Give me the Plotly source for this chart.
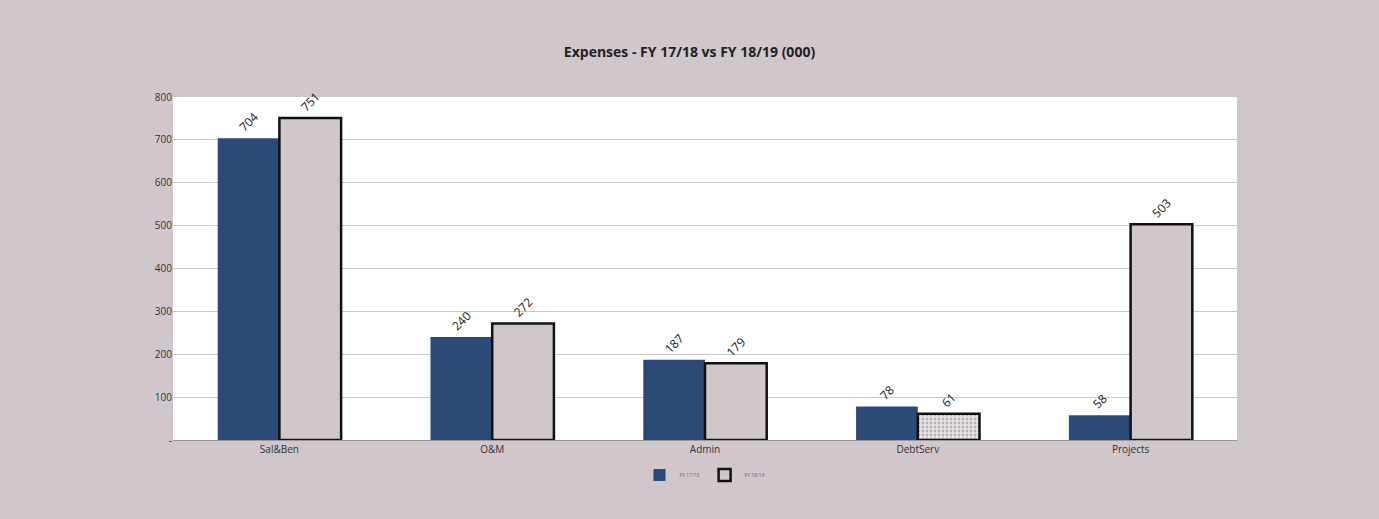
import plotly.graph_objects as go

categories = ["Sal&Ben", "O&M", "Admin", "DebtServ", "Projects"]
fy1718 = [704, 240, 187, 78, 58]
fy1819 = [751, 272, 179, 61, 503]
series_names = ["FY 17/18", "FY 18/19"]
tick_vals = [0, 100, 200, 300, 400, 500, 600, 700, 800]
tick_text = ["-", "100", "200", "300", "400", "500", "600", "700", "800"]

bg = "#cfc7cb"
font = "Open Sans"

fig = go.Figure()
fig.add_trace(go.Bar(
    x=categories, y=fy1718, name=series_names[0],
    marker=dict(color="#2c4a77", line=dict(width=0)),
    text=[str(v) for v in fy1718], textposition="outside", textangle=-45,
    textfont=dict(size=12, color="#222", family=font), cliponaxis=False,
))
fig.add_trace(go.Bar(
    x=categories, y=fy1819, name=series_names[1],
    marker=dict(color=bg, line=dict(width=2.5, color="#111"),
                pattern=dict(shape=["", "", "", ".", ""], fgcolor="#8a8488",
                             bgcolor="#e8e4e6", size=4, solidity=0.4)),
    text=[str(v) for v in fy1819], textposition="outside", textangle=-45,
    textfont=dict(size=12, color="#222", family=font), cliponaxis=False,
))

fig.update_layout(
    width=1379, height=519,
    paper_bgcolor=bg, plot_bgcolor="white",
    margin=dict(l=173, r=142, t=97, b=79),
    barmode="group", bargap=0.42, bargroupgap=0,
    title=dict(text="<b>Expenses - FY 17/18 vs FY 18/19 (000)</b>", x=0.5, xanchor="center",
               y=0.9, yanchor="middle", font=dict(size=14, color="#222", family=font)),
    showlegend=True,
    legend=dict(orientation="h", x=0.5, xanchor="center", y=-0.06, yanchor="top",
                font=dict(size=5, color="#666", family=font), bgcolor="rgba(0,0,0,0)",
                itemwidth=30),
    font=dict(family=font, size=10, color="#333"),
)
fig.update_xaxes(showgrid=False, showline=True, linecolor="#999", linewidth=1,
                 tickfont=dict(size=10, color="#333"), ticks="")
fig.update_yaxes(range=[0, 800], tickvals=tick_vals, ticktext=tick_text,
                 showgrid=True, gridcolor="#c8c8c8", gridwidth=1,
                 showline=False, zeroline=False, ticks="",
                 tickfont=dict(size=10, color="#333"))

fig.write_html("out.html")
